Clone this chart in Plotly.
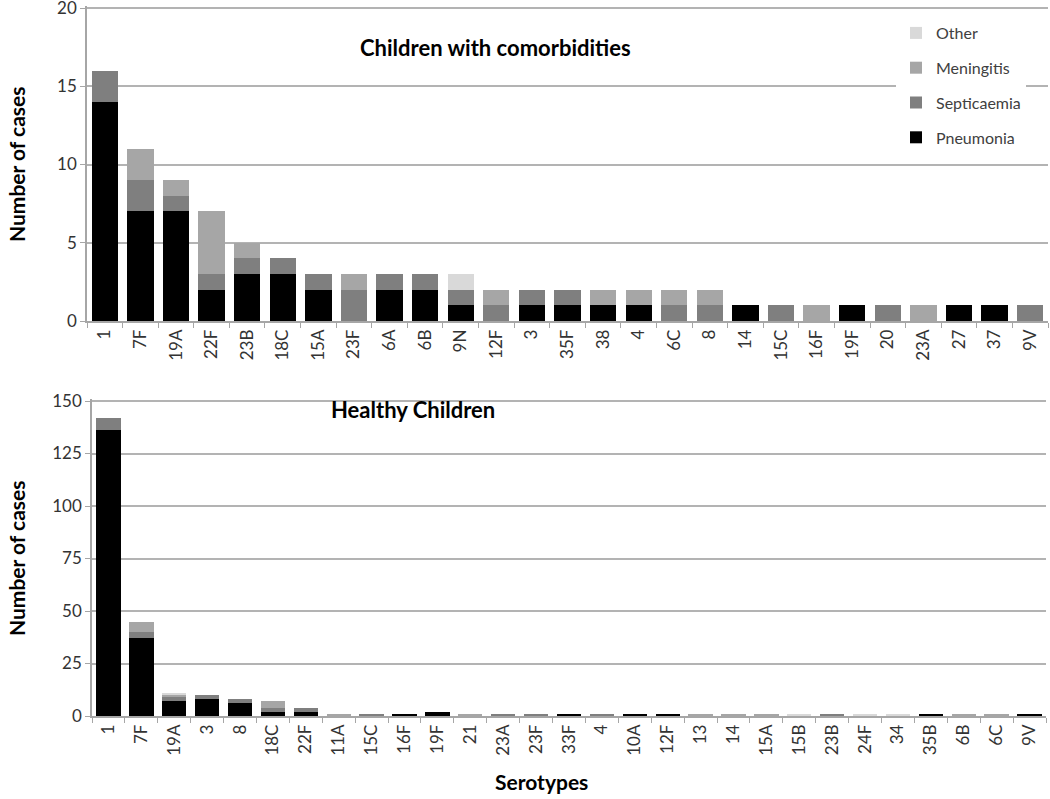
import plotly.graph_objects as go

# ---------------- data ----------------
top_cats = ["1", "7F", "19A", "22F", "23B", "18C", "15A", "23F", "6A", "6B", "9N", "12F", "3", "35F",
            "38", "4", "6C", "8", "14", "15C", "16F", "19F", "20", "23A", "27", "37", "9V"]
top_pneumonia = [14, 7, 7, 2, 3, 3, 2, 0, 2, 2, 1, 0, 1, 1, 1, 1, 0, 0, 1, 0, 0, 1, 0, 0, 1, 1, 0]
top_septicaemia = [2, 2, 1, 1, 1, 1, 1, 2, 1, 1, 1, 1, 1, 1, 0, 0, 1, 1, 0, 1, 0, 0, 1, 0, 0, 0, 1]
top_meningitis = [0, 2, 1, 4, 1, 0, 0, 1, 0, 0, 0, 1, 0, 0, 1, 1, 1, 1, 0, 0, 1, 0, 0, 1, 0, 0, 0]
top_other = [0, 0, 0, 0, 0, 0, 0, 0, 0, 0, 1, 0, 0, 0, 0, 0, 0, 0, 0, 0, 0, 0, 0, 0, 0, 0, 0]

bot_cats = ["1", "7F", "19A", "3", "8", "18C", "22F", "11A", "15C", "16F", "19F", "21", "23A", "23F",
            "33F", "4", "10A", "12F", "13", "14", "15A", "15B", "23B", "24F", "34", "35B", "6B", "6C", "9V"]
bot_pneumonia = [136, 37, 7, 8, 6, 2, 2, 0, 0, 1, 2, 0, 0, 0, 1, 0, 1, 1, 0, 0, 0, 0, 0, 0, 0, 1, 0, 0, 1]
bot_septicaemia = [6, 3, 2, 2, 2, 2, 2, 0, 1, 0, 0, 0, 1, 1, 0, 1, 0, 0, 0, 0, 0, 0, 1, 0, 0, 0, 0, 0, 0]
bot_meningitis = [0, 5, 1, 0, 0, 3, 0, 1, 0, 0, 0, 1, 0, 0, 0, 0, 0, 0, 1, 1, 1, 0, 0, 0, 0, 0, 1, 1, 0]
bot_other = [0, 0, 1, 0, 0, 0, 0, 0, 0, 0, 0, 0, 0, 0, 0, 0, 0, 0, 0, 0, 0, 1, 0, 1, 1, 0, 0, 0, 0]

series_names = ["Pneumonia", "Septicaemia", "Meningitis", "Other"]
series_colors = ["#000000", "#7f7f7f", "#a6a6a6", "#d9d9d9"]
legend_ranks = [4, 3, 2, 1]

top_tickvals = [0, 5, 10, 15, 20]
bot_tickvals = [0, 25, 50, 75, 100, 125, 150]

# ---------------- figure ----------------
W, H = 1050, 799
FONT = "Lato, 'Open Sans', sans-serif"


def px(p):
    return p / W


def py(p):
    return (H - p) / H


fig = go.Figure()

top_series = [top_pneumonia, top_septicaemia, top_meningitis, top_other]
bot_series = [bot_pneumonia, bot_septicaemia, bot_meningitis, bot_other]

for i, (name, col) in enumerate(zip(series_names, series_colors)):
    fig.add_trace(go.Bar(x=top_cats, y=top_series[i], name=name, marker_color=col,
                         marker_line_width=0, xaxis="x", yaxis="y",
                         legendgroup=name, legendrank=legend_ranks[i], showlegend=True))
for i, (name, col) in enumerate(zip(series_names, series_colors)):
    fig.add_trace(go.Bar(x=bot_cats, y=bot_series[i], name=name, marker_color=col,
                         marker_line_width=0, xaxis="x2", yaxis="y2",
                         legendgroup=name, showlegend=False))

grid_col = "#b3b3b3"
axis_col = "#a6a6a6"
tick_font = dict(family=FONT, size=17, color="#333333")

# top panel: 0 at y=321px, 20 at y=8px
top_ppu = (321 - 8) / 20.0
top_max = 20.15
# bottom panel: 0 at y=716px, 150 at y=401px
bot_ppu = (716 - 401) / 150.0
bot_max = 151.0

fig.update_layout(
    width=W, height=H,
    barmode="stack", bargap=0.26,
    paper_bgcolor="white", plot_bgcolor="white",
    margin=dict(l=0, r=0, t=0, b=0),
    font=dict(family=FONT, color="#000000"),
    showlegend=True,
    legend=dict(x=px(896), y=py(16), xanchor="left", yanchor="top",
                traceorder="grouped", tracegroupgap=11,
                bgcolor="white", font=dict(family=FONT, size=16, color="#404040"),
                entrywidth=112, entrywidthmode="pixels", itemwidth=30),
    xaxis=dict(domain=[px(87), px(1048)], anchor="y", type="category",
               showline=True, linecolor=axis_col, linewidth=1.5,
               ticks="outside", tickson="boundaries", ticklen=5, tickcolor=axis_col,
               tickangle=-90, tickfont=tick_font, showgrid=False, automargin=False),
    yaxis=dict(domain=[py(321), py(321 - top_max * top_ppu)], anchor="x",
               range=[0, top_max], tickvals=top_tickvals,
               showline=True, linecolor=axis_col, linewidth=1.5,
               ticks="outside", ticklen=5, tickcolor=axis_col,
               showgrid=True, gridcolor=grid_col, gridwidth=1.5,
               tickfont=tick_font, automargin=False, zeroline=False,
               ticklabeloverflow="allow"),
    xaxis2=dict(domain=[px(92), px(1046)], anchor="y2", type="category",
                showline=True, linecolor=axis_col, linewidth=1.5,
                ticks="outside", tickson="boundaries", ticklen=5, tickcolor=axis_col,
                tickangle=-90, tickfont=tick_font, showgrid=False, automargin=False),
    yaxis2=dict(domain=[py(716), py(716 - bot_max * bot_ppu)], anchor="x2",
                range=[0, bot_max], tickvals=bot_tickvals,
                showline=True, linecolor=axis_col, linewidth=1.5,
                ticks="outside", ticklen=5, tickcolor=axis_col,
                showgrid=True, gridcolor=grid_col, gridwidth=1.5,
                tickfont=tick_font, automargin=False, zeroline=False),
)

title_font = dict(family=FONT, size=22, color="#000000")
axis_title_font = dict(family=FONT, size=21, color="#000000")
annotations = [
    dict(text="<b>Children with comorbidities</b>", x=px(495), y=py(47), xref="paper", yref="paper",
         showarrow=False, font=title_font, xanchor="center", yanchor="middle"),
    dict(text="<b>Healthy Children</b>", x=px(413), y=py(409), xref="paper", yref="paper",
         showarrow=False, font=title_font, xanchor="center", yanchor="middle"),
    dict(text="<b>Number of cases</b>", x=px(16), y=py(164), xref="paper", yref="paper",
         showarrow=False, font=axis_title_font, textangle=-90,
         xanchor="center", yanchor="middle"),
    dict(text="<b>Number of cases</b>", x=px(16), y=py(558), xref="paper", yref="paper",
         showarrow=False, font=axis_title_font, textangle=-90,
         xanchor="center", yanchor="middle"),
    dict(text="<b>Serotypes</b>", x=px(541), y=py(781), xref="paper", yref="paper",
         showarrow=False, font=axis_title_font,
         xanchor="center", yanchor="middle"),
]
fig.update_layout(annotations=annotations)

fig.write_html("out.html", config={"displayModeBar": False},
               post_script="document.body.style.margin='0';document.body.style.padding='0';")
